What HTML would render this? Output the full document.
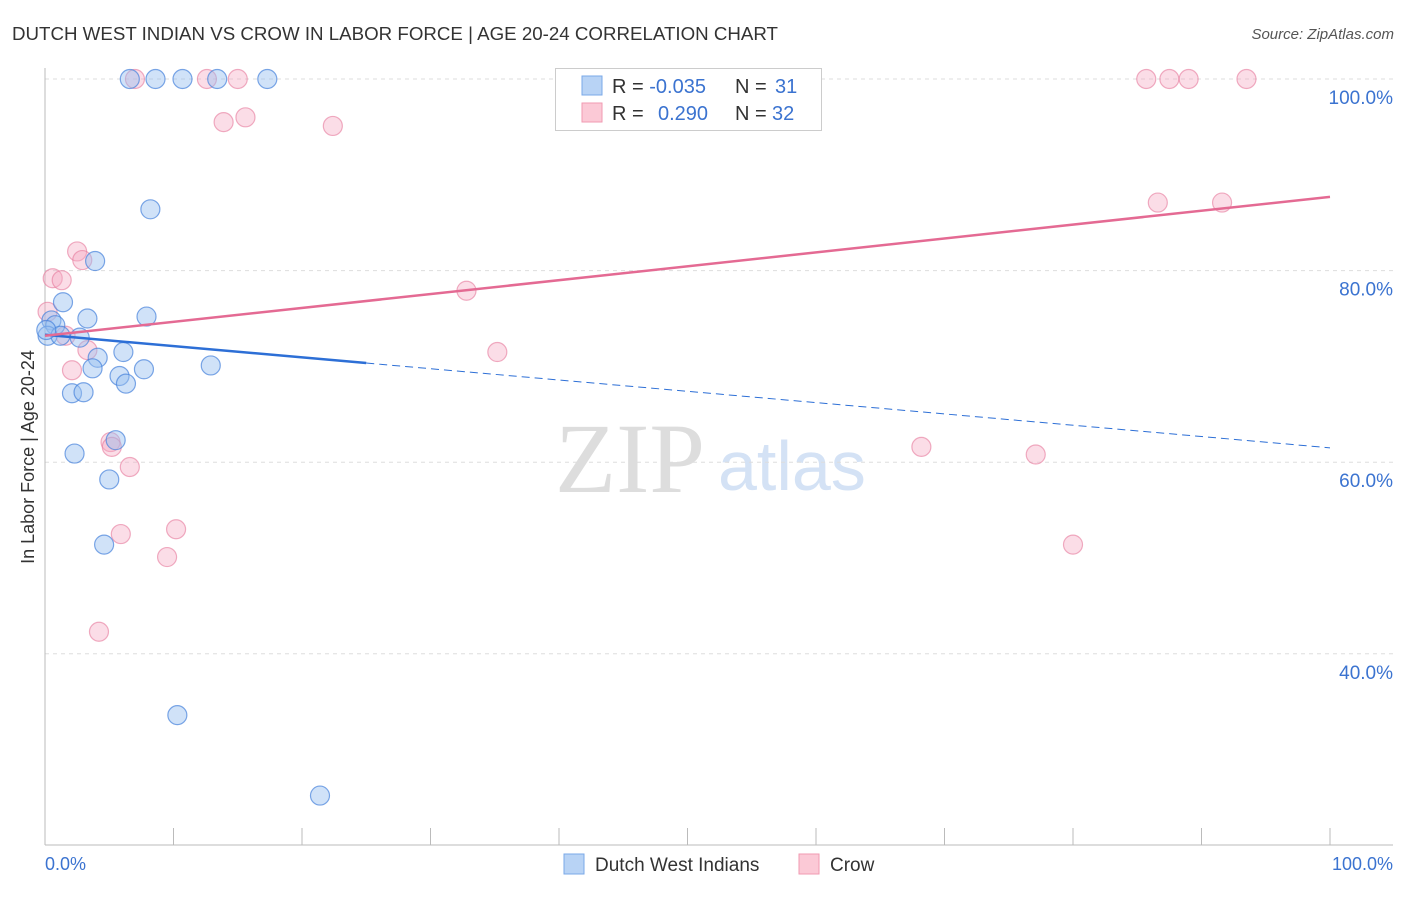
<!DOCTYPE html>
<html><head><meta charset="utf-8"><style>
body{margin:0;background:#fff;font-family:"Liberation Sans",sans-serif;}
</style></head><body>
<svg id="chart" width="1406" height="892" xmlns="http://www.w3.org/2000/svg">
<text x="12" y="40" font-size="18" fill="#333" textLength="766" lengthAdjust="spacingAndGlyphs">DUTCH WEST INDIAN VS CROW IN LABOR FORCE | AGE 20-24 CORRELATION CHART</text>
<text x="1394" y="39" font-size="15" fill="#555" font-style="italic" text-anchor="end">Source: ZipAtlas.com</text>
<text x="555" y="492" font-size="100" fill="#ddd" font-family="Liberation Serif,serif">ZIP</text>
<text x="718" y="490" font-size="70" fill="#d4e2f5">atlas</text>
<g id="grid"></g>
<line x1="45" y1="68" x2="45" y2="845" stroke="#bbb"/>
<line x1="45" y1="845" x2="1393" y2="845" stroke="#bbb"/>
<text x="0" y="0" transform="translate(34,457) rotate(-90)" font-size="18" fill="#333" text-anchor="middle">In Labor Force | Age 20-24</text>
<text x="45" y="870" font-size="18" fill="#3b73d0">0.0%</text>
<text x="1393" y="870" font-size="18" fill="#3b73d0" text-anchor="end">100.0%</text>
<g id="marks"></g>
<g>
<rect x="555.5" y="68.5" width="266" height="62" fill="#fff" stroke="#ccc"/>
<rect x="582" y="76" width="20" height="19" fill="#b8d3f5" stroke="#7aa8e8"/>
<rect x="582" y="103" width="20" height="19" fill="#fbc9d6" stroke="#f09ab2"/>
<text x="612" y="93" font-size="20" fill="#333">R = <tspan fill="#3b73d0">-0.035</tspan><tspan x="735">N = </tspan><tspan fill="#3b73d0" x="775">31</tspan></text>
<text x="612" y="120" font-size="20" fill="#333">R = <tspan fill="#3b73d0" x="658">0.290</tspan><tspan x="735">N = </tspan><tspan fill="#3b73d0" x="772">32</tspan></text>
</g>
<g>
<rect x="564" y="854" width="20" height="20" fill="#b8d3f5" stroke="#7aa8e8"/>
<text x="595" y="871" font-size="19" fill="#333">Dutch West Indians</text>
<rect x="799" y="854" width="20" height="20" fill="#fbc9d6" stroke="#f09ab2"/>
<text x="830" y="871" font-size="19" fill="#333">Crow</text>
</g>
</svg>
<script>
const yTicks=[100,80,60,40];
const yTickLabels=["100.0%","80.0%","60.0%","40.0%"];
const xTicks=[0,10,20,30,40,50,60,70,80,90,100];
const blueX=[6.6,8.6,10.7,13.4,17.3,8.2,3.9,1.4,3.3,7.9,0.5,0.8,0.2,1.2,2.7,6.1,4.1,3.7,5.8,6.3,7.7,12.9,2.1,3.0,5.5,2.3,5.0,4.6,10.3,21.4,0.1];
const blueY=[100,100,100,100,100,86.4,81.0,76.7,75.0,75.2,74.8,74.3,73.2,73.2,73.0,71.5,70.9,69.8,69.0,68.2,69.7,70.1,67.2,67.3,62.3,60.9,58.2,51.4,33.6,25.2,73.8];
const pinkX=[7.0,12.6,15.0,85.7,87.5,89.0,93.5,13.9,15.6,22.4,86.6,91.6,2.5,2.9,0.6,1.3,32.8,0.2,1.6,3.3,35.2,2.1,5.1,5.2,6.6,10.2,5.9,9.5,68.2,77.1,80.0,4.2];
const pinkY=[100,100,100,100,100,100,100,95.5,96.0,95.1,87.1,87.1,82.0,81.1,79.2,79.0,77.9,75.7,73.2,71.7,71.5,69.6,62.1,61.6,59.5,53.0,52.5,50.1,61.6,60.8,51.4,42.3];
const blueTrend=[73.3,61.5];
const pinkTrend=[73.2,87.7];
const blueSolidEnd=25;
const NS="http://www.w3.org/2000/svg";
const sx=v=>45+v*12.85;
const sy=v=>79+(100-v)*9.58;
function mk(tag,attrs,parent){const e=document.createElementNS(NS,tag);for(const k in attrs)e.setAttribute(k,attrs[k]);parent.appendChild(e);return e;}
const grid=document.getElementById('grid'),marks=document.getElementById('marks');
yTicks.forEach((t,i)=>{
 const l=mk('line',{x1:45,x2:1393,y1:sy(t),y2:sy(t),stroke:'#ddd','stroke-dasharray':'4,4'},grid);
 
 
 const tx=mk('text',{x:1393,y:sy(t)+25,'font-size':19,fill:'#3b73d0','text-anchor':'end'},grid);
 tx.textContent=yTickLabels[i];
 
 
});
xTicks.forEach(t=>{
 const l=mk('line',{x1:sx(t),x2:sx(t),y1:828,y2:845,stroke:'#bbb'},grid);
 
 
});
pinkX.forEach((x,i)=>{
 const c=mk('circle',{cx:sx(x),cy:sy(pinkY[i]),r:9.5,fill:'rgba(245,170,195,0.4)',stroke:'rgba(230,120,155,0.6)','stroke-width':1.2},marks);
 
 
});
blueX.forEach((x,i)=>{
 const c=mk('circle',{cx:sx(x),cy:sy(blueY[i]),r:9.5,fill:'rgba(150,190,240,0.45)',stroke:'rgba(70,130,220,0.7)','stroke-width':1.2},marks);
 
 
});
const bt=x=>blueTrend[0]+(blueTrend[1]-blueTrend[0])*x/100;
const pt=x=>pinkTrend[0]+(pinkTrend[1]-pinkTrend[0])*x/100;
const l1=mk('line',{x1:sx(0),y1:sy(bt(0)),x2:sx(blueSolidEnd),y2:sy(bt(blueSolidEnd)),stroke:'#2d6fd6','stroke-width':2.5},marks);


const l2=mk('line',{x1:sx(blueSolidEnd),y1:sy(bt(blueSolidEnd)),x2:sx(100),y2:sy(bt(100)),stroke:'#2d6fd6','stroke-width':1,'stroke-dasharray':'8,5'},marks);


const l3=mk('line',{x1:sx(0),y1:sy(pt(0)),x2:sx(100),y2:sy(pt(100)),stroke:'#e46a93','stroke-width':2.5},marks);


</script>
</body></html>
